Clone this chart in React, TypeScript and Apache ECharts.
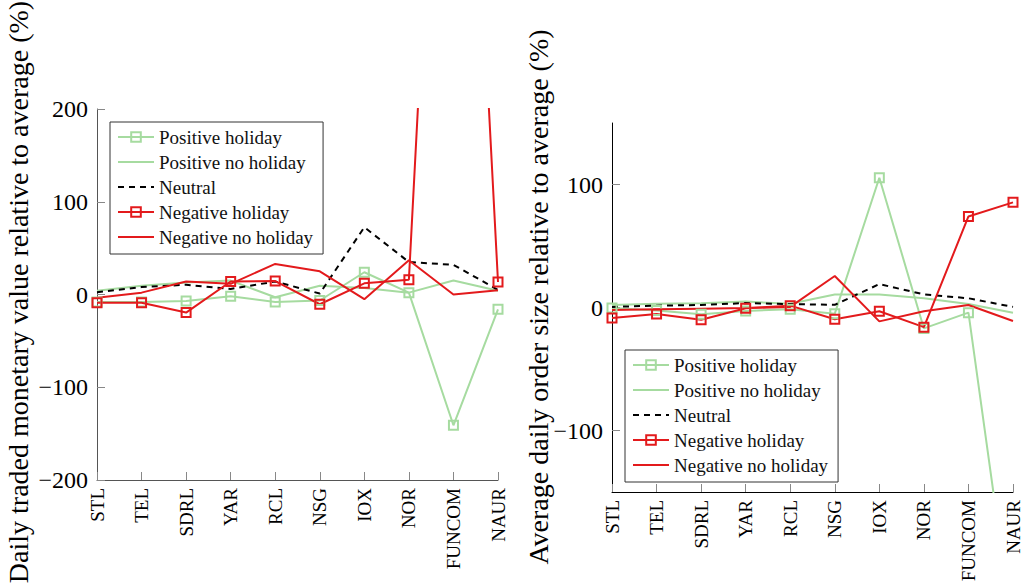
import { useEffect, useRef } from 'react';
import * as echarts from 'echarts';

// Stock tickers along both x axes
const categories = ['STL', 'TEL', 'SDRL', 'YAR', 'RCL', 'NSG', 'IOX', 'NOR', 'FUNCOM', 'NAUR'];

// Daily traded monetary value relative to average (%)
const valuePosHoliday = [-8, -8, -7, -2, -8, -6.5, 24, 2, -141, -16];
const valuePosNoHoliday = [4, 9.5, 13, 15, -3, 9.5, 7, 2, 15, 4];
const valueNeutral = [2.5, 8, 10.5, 6, 14, 1, 72.5, 35, 32, 5];
const valueNegHoliday = [-9, -9, -19.5, 14, 14.5, -10.5, 12, 16, 930, 13.5];
const valueNegNoHoliday = [-3.5, 2, 14, 11.5, 33, 25, -5, 37, 0, 4.5];

// Average daily order size relative to average (%)
const sizePosHoliday = [-0.5, -2.5, -5.5, -2.8, -1.5, -5, 105.5, -17, -4.2, -265];
const sizePosNoHoliday = [2, 3, 3.4, 4.8, 3, 10.5, 10.5, 7.5, 2.8, -4.2];
const sizeNeutral = [0.5, 1.5, 2, 3.6, 2.8, 2.2, 19, 10.7, 7.5, 0.5];
const sizeNegHoliday = [-8.5, -5.3, -10, -0.6, 1.5, -9.6, -3, -16, 74, 85.5];
const sizeNegNoHoliday = [-2, -1.5, -1, -0.5, 0.5, 25.6, -11.3, -3, 2, -11];

const seriesNames = ['Positive holiday', 'Positive no holiday', 'Neutral', 'Negative holiday', 'Negative no holiday'];
const leftTicks = [-200, -100, 0, 100, 200];
const rightTicks = [-100, 0, 100];

const FONT = "'Liberation Serif', 'Times New Roman', serif";
const GREEN = '#a6dba0';
const RED = '#e31a1c';
const BLACK = '#000000';

const fmt = (v: number) => (v < 0 ? '\u2212' + Math.abs(v) : String(v));

function makeSeries(idx: number, data: number[][]) {
  const [posH, posN, neu, negH, negN] = data;
  const base = { type: 'line', xAxisIndex: idx, yAxisIndex: idx, clip: true };
  return [
    {
      ...base,
      name: seriesNames[0],
      data: posH,
      symbol: 'rect',
      symbolSize: 9,
      itemStyle: { color: 'rgba(255,255,255,0)', borderColor: GREEN, borderWidth: 2 },
      lineStyle: { color: GREEN, width: 2 },
    },
    {
      ...base,
      name: seriesNames[1],
      data: posN,
      symbol: 'none',
      itemStyle: { color: GREEN },
      lineStyle: { color: GREEN, width: 2 },
    },
    {
      ...base,
      name: seriesNames[2],
      data: neu,
      symbol: 'none',
      itemStyle: { color: BLACK },
      lineStyle: { color: BLACK, width: 2, type: [6, 5] },
    },
    {
      ...base,
      name: seriesNames[3],
      data: negH,
      symbol: 'rect',
      symbolSize: 9,
      itemStyle: { color: 'rgba(255,255,255,0)', borderColor: RED, borderWidth: 2 },
      lineStyle: { color: RED, width: 2 },
    },
    {
      ...base,
      name: seriesNames[4],
      data: negN,
      symbol: 'none',
      itemStyle: { color: RED },
      lineStyle: { color: RED, width: 2 },
    },
  ];
}

function makeLegend(left: number, top: number) {
  return {
    orient: 'vertical',
    left,
    top,
    selectedMode: false,
    backgroundColor: '#fff',
    borderColor: '#333',
    borderWidth: 1,
    padding: [5, 10, 7, 7],
    itemGap: 5,
    itemWidth: 36,
    itemHeight: 12,
    textStyle: { fontFamily: FONT, fontSize: 19, color: '#111', lineHeight: 20 },
    data: seriesNames.map((name, i) =>
      i === 0 || i === 3 ? { name } : { name, itemStyle: { opacity: 0 } }
    ),
  };
}

function makeXAxis(gridIndex: number, axisColor: string) {
  return {
    type: 'category',
    gridIndex,
    data: categories,
    boundaryGap: false,
    axisLine: { show: true, onZero: false, lineStyle: { color: axisColor, width: 1 } },
    axisTick: { show: true, inside: true, length: 8, interval: 0, lineStyle: { color: '#888' } },
    axisLabel: { rotate: 90, interval: 0, margin: 8, fontFamily: FONT, fontSize: 19, color: '#000' },
    splitLine: { show: false },
  };
}

function makeYAxis(gridIndex: number, min: number, max: number, ticks: number[], axisColor: string) {
  return {
    type: 'value',
    gridIndex,
    min,
    max,
    axisLine: { show: true, onZero: false, lineStyle: { color: axisColor, width: 1 } },
    axisTick: { show: true, inside: true, length: 8, customValues: ticks, lineStyle: { color: '#888' } },
    axisLabel: { customValues: ticks, formatter: fmt, margin: 9, fontFamily: FONT, fontSize: 24, color: '#000' },
    splitLine: { show: false },
  };
}

const option = {
  animation: false,
  backgroundColor: '#fff',
  textStyle: { fontFamily: FONT },
  grid: [
    { left: 97, top: 109, width: 401, height: 371, containLabel: false },
    { left: 612, top: 123, width: 401, height: 369, containLabel: false },
  ],
  xAxis: [makeXAxis(0, '#555'), makeXAxis(1, '#000')],
  yAxis: [makeYAxis(0, -200, 200, leftTicks, '#555'), makeYAxis(1, -150, 150, rightTicks, '#000')],
  legend: [makeLegend(110, 122), makeLegend(625, 350)],
  graphic: [
    {
      type: 'text',
      x: 18,
      y: 292,
      rotation: Math.PI / 2,
      style: {
        text: 'Daily traded monetary value relative to average (%)',
        fontFamily: FONT,
        fontSize: 28,
        fill: '#000',
        align: 'center',
        verticalAlign: 'middle',
      },
    },
    {
      type: 'text',
      x: 538,
      y: 297,
      rotation: Math.PI / 2,
      style: {
        text: 'Average daily order size relative to average (%)',
        fontFamily: FONT,
        fontSize: 28,
        fill: '#000',
        align: 'center',
        verticalAlign: 'middle',
      },
    },
  ],
  series: [
    ...makeSeries(0, [valuePosHoliday, valuePosNoHoliday, valueNeutral, valueNegHoliday, valueNegNoHoliday]),
    ...makeSeries(1, [sizePosHoliday, sizePosNoHoliday, sizeNeutral, sizeNegHoliday, sizeNegNoHoliday]),
  ],
};

export default function App() {
  const ref = useRef<HTMLDivElement>(null);
  useEffect(() => {
    if (!ref.current) return;
    const chart = echarts.init(ref.current, null, { renderer: 'svg' });
    chart.setOption(option as any);
    return () => chart.dispose();
  }, []);
  return (
    <div
      ref={ref}
      style={{ position: 'fixed', left: 0, top: 0, width: 1027, height: 586, background: '#fff' }}
    />
  );
}
